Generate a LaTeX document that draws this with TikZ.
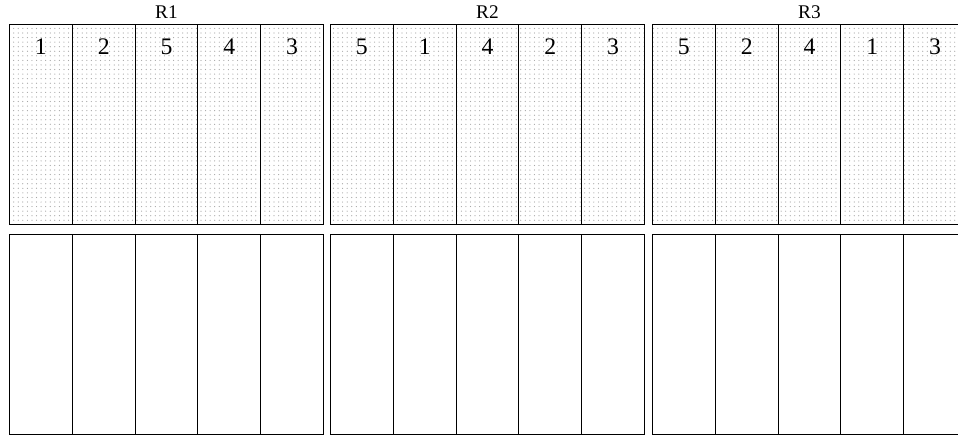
\documentclass[tikz,border=0pt]{standalone}
\usepackage{fontspec}
\setmainfont{Liberation Serif}
\usetikzlibrary{patterns.meta,positioning}

\begin{document}
\begin{tikzpicture}[
    x=0.02cm, y=-0.02cm,
    line width=0.6pt,
    cell/.style={draw, anchor=north west, minimum width=1.256cm, minimum height=4cm, inner sep=0pt},
    dotted cell/.style={cell, pattern={Dots[distance=2.6pt, radius=0.35pt]}, pattern color=gray!70},
    num/.style={font=\fontsize{13.5}{15}\selectfont, inner sep=0pt},
    grp/.style={font=\fontsize{11}{13}\selectfont, inner sep=0pt}
]
\useasboundingbox (0,0) rectangle (958,435);

% three groups, upper row dotted and numbered, lower row empty
\foreach \g/\gx/\order in {1/9/{1,2,5,4,3}, 2/330/{5,1,4,2,3}, 3/652/{5,2,4,1,3}} {
  \foreach \n [count=\i] in \order {
    \pgfmathsetmacro{\cx}{\gx+(\i-1)*62.8}
    \node[dotted cell] (t\g\i) at (\cx,24) {};
    \node[cell] (b\g\i) at (\cx,234) {};
    \node[num] (n\g\i) at ([yshift=-0.46cm]t\g\i.north) {\n};
  }
  \node[grp, above=0.09cm of t\g3.north] (r\g) {R\g};
}
\end{tikzpicture}
\end{document}
